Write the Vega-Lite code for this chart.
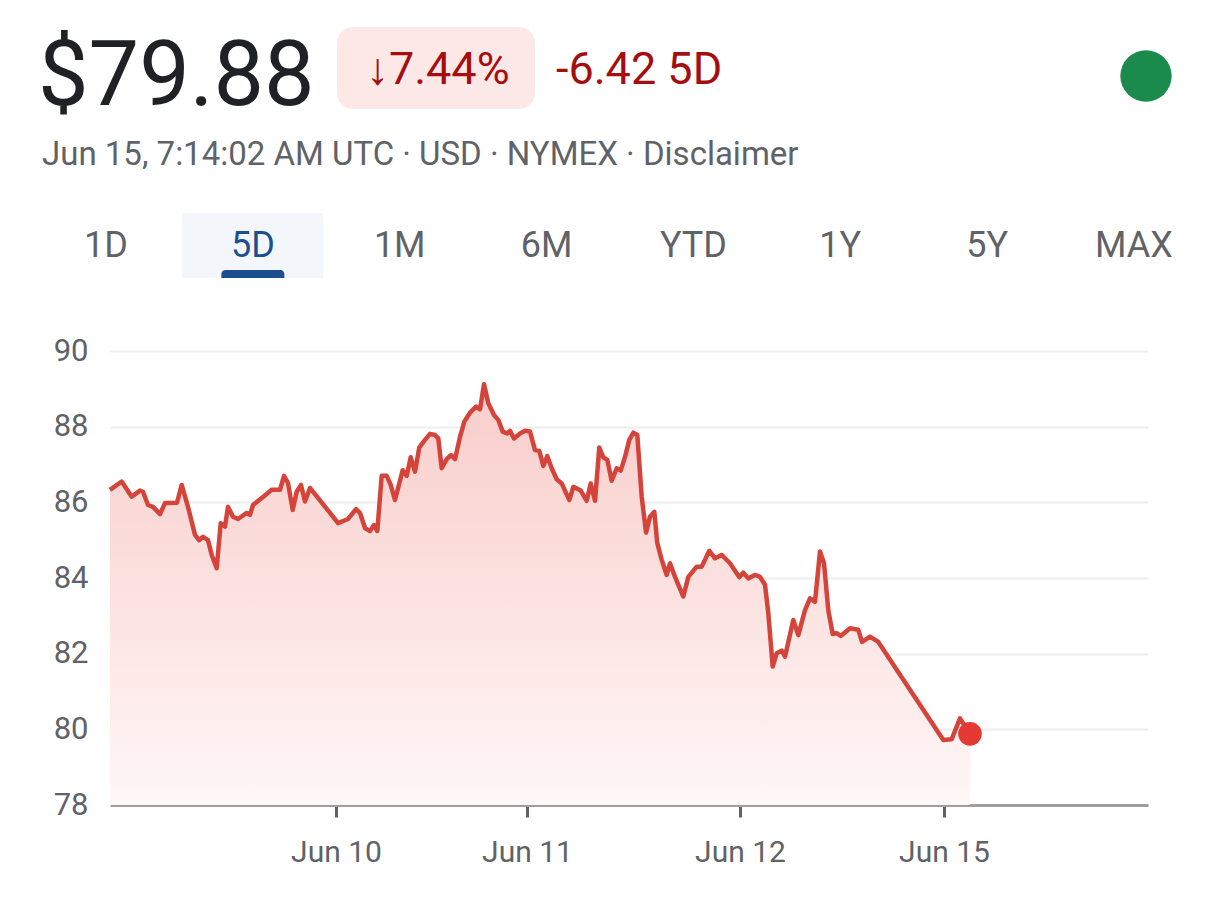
{
  "$schema": "https://vega.github.io/schema/vega-lite/v6.json",
  "background": "white",
  "padding": 0,
  "spacing": 0,
  "config": {"view": {"stroke": null}, "font": "Roboto"},
  "vconcat": [
    {
      "width": 1110,
      "height": 335,
      "resolve": {"scale": {"x": "independent"}},
      "layer": [
        {
          "data": {"values": [{}]},
          "layer": [
            {
              "mark": {"type": "rect", "cornerRadius": 16, "color": "#fce8e6"},
              "encoding": {
                "x": {"datum": 337, "scale": {"domain": [110, 1220], "nice": false, "zero": false}, "axis": null},
                "x2": {"datum": 535},
                "y": {"datum": 27, "scale": {"domain": [0, 335], "reverse": true, "nice": false, "zero": false}, "axis": null},
                "y2": {"datum": 109}
              }
            },
            {
              "mark": {"type": "text", "text": "$79.88", "font": "Roboto", "fontSize": 90, "color": "#202124", "align": "left", "baseline": "alphabetic"},
              "encoding": {"x": {"datum": 38}, "y": {"datum": 105}}
            },
            {
              "mark": {"type": "text", "text": "↓7.44%", "font": "Roboto", "fontSize": 45, "color": "#a50e0e", "align": "center", "baseline": "alphabetic"},
              "encoding": {"x": {"datum": 438}, "y": {"datum": 84}}
            },
            {
              "mark": {"type": "text", "text": "-6.42 5D", "font": "Roboto", "fontSize": 45, "color": "#a50e0e", "align": "left", "baseline": "alphabetic"},
              "encoding": {"x": {"datum": 556}, "y": {"datum": 84}}
            },
            {
              "mark": {"type": "text", "text": "Jun 15, 7:14:02 AM UTC · USD · NYMEX · Disclaimer", "font": "Roboto", "fontSize": 33, "color": "#5f6368", "align": "left", "baseline": "alphabetic"},
              "encoding": {"x": {"datum": 42}, "y": {"datum": 165}}
            },
            {
              "mark": {"type": "circle", "size": 2640, "color": "#1b8a4d", "opacity": 1},
              "encoding": {"x": {"datum": 1146}, "y": {"datum": 76}}
            }
          ]
        },
        {
          "data": {"values": [
            {"tab": "1D"}, {"tab": "5D"}, {"tab": "1M"}, {"tab": "6M"},
            {"tab": "YTD"}, {"tab": "1Y"}, {"tab": "5Y"}, {"tab": "MAX"}
          ]},
          "encoding": {
            "x": {
              "field": "tab", "type": "ordinal", "sort": null,
              "scale": {"type": "point", "domain": ["1D", "5D", "1M", "6M", "YTD", "1Y", "5Y", "MAX"], "range": [-4, 1024], "padding": 0},
              "axis": null
            }
          },
          "layer": [
            {
              "transform": [{"filter": "datum.tab === '5D'"}],
              "mark": {"type": "bar", "width": 141, "color": "#f3f7fc"},
              "encoding": {
                "y": {"datum": 213, "scale": {"domain": [0, 335], "reverse": true, "nice": false, "zero": false}, "axis": null},
                "y2": {"datum": 278}
              }
            },
            {
              "transform": [{"filter": "datum.tab === '5D'"}],
              "mark": {"type": "bar", "width": 63, "color": "#1b4f8f", "cornerRadiusTopLeft": 5, "cornerRadiusTopRight": 5},
              "encoding": {"y": {"datum": 270}, "y2": {"datum": 278}}
            },
            {
              "mark": {"type": "text", "font": "Roboto", "fontSize": 36, "baseline": "middle", "align": "center"},
              "encoding": {
                "y": {"datum": 246},
                "text": {"field": "tab"},
                "color": {"condition": {"test": "datum.tab === '5D'", "value": "#1b4f8f"}, "value": "#5f6368"}
              }
            }
          ]
        }
      ]
    },
    {
      "width": 1038,
      "height": 454,
      "data": {"values": [
        {"t": 0, "v": 86.33}, {"t": 11.7, "v": 86.55}, {"t": 21.7, "v": 86.15}, {"t": 30, "v": 86.31},
        {"t": 33, "v": 86.28}, {"t": 38, "v": 85.93}, {"t": 43, "v": 85.88}, {"t": 50, "v": 85.69},
        {"t": 55, "v": 85.98}, {"t": 67, "v": 85.99}, {"t": 71.7, "v": 86.46}, {"t": 78, "v": 85.88},
        {"t": 85, "v": 85.14}, {"t": 89, "v": 85.0}, {"t": 93, "v": 85.09}, {"t": 98, "v": 85.0},
        {"t": 101.7, "v": 84.61}, {"t": 106.7, "v": 84.26}, {"t": 110.7, "v": 85.45}, {"t": 115, "v": 85.36},
        {"t": 118, "v": 85.88}, {"t": 123, "v": 85.62}, {"t": 128, "v": 85.56}, {"t": 136.7, "v": 85.72},
        {"t": 140, "v": 85.67}, {"t": 143, "v": 85.93}, {"t": 153, "v": 86.14}, {"t": 161.7, "v": 86.33},
        {"t": 170, "v": 86.33}, {"t": 174, "v": 86.7}, {"t": 178, "v": 86.51}, {"t": 182.7, "v": 85.8},
        {"t": 186.7, "v": 86.28}, {"t": 191, "v": 86.46}, {"t": 195, "v": 86.02}, {"t": 200, "v": 86.38},
        {"t": 220, "v": 85.72}, {"t": 228, "v": 85.45}, {"t": 238, "v": 85.56}, {"t": 246, "v": 85.82},
        {"t": 250, "v": 85.72}, {"t": 255, "v": 85.32}, {"t": 260, "v": 85.24}, {"t": 264, "v": 85.4},
        {"t": 267.3, "v": 85.24}, {"t": 271.7, "v": 86.7}, {"t": 276.7, "v": 86.7}, {"t": 280.7, "v": 86.46},
        {"t": 285, "v": 86.06}, {"t": 292.7, "v": 86.85}, {"t": 296.7, "v": 86.7}, {"t": 300.7, "v": 87.19},
        {"t": 305, "v": 86.81}, {"t": 309.3, "v": 87.45}, {"t": 315, "v": 87.65}, {"t": 320, "v": 87.81},
        {"t": 325, "v": 87.78}, {"t": 328.3, "v": 87.69}, {"t": 331.7, "v": 86.9}, {"t": 336.7, "v": 87.14},
        {"t": 341, "v": 87.25}, {"t": 345, "v": 87.14}, {"t": 350, "v": 87.73}, {"t": 354.3, "v": 88.13},
        {"t": 360, "v": 88.37}, {"t": 366, "v": 88.53}, {"t": 370, "v": 88.46}, {"t": 374, "v": 89.12},
        {"t": 378.3, "v": 88.62}, {"t": 384, "v": 88.31}, {"t": 388.3, "v": 88.18}, {"t": 392.7, "v": 87.87},
        {"t": 397.3, "v": 87.82}, {"t": 400, "v": 87.89}, {"t": 404, "v": 87.69}, {"t": 410, "v": 87.82},
        {"t": 415, "v": 87.89}, {"t": 420, "v": 87.87}, {"t": 425, "v": 87.38}, {"t": 429.3, "v": 87.36},
        {"t": 433.3, "v": 86.96}, {"t": 437.3, "v": 87.22}, {"t": 441.7, "v": 86.9}, {"t": 446.7, "v": 86.61},
        {"t": 451.7, "v": 86.5}, {"t": 459.3, "v": 86.06}, {"t": 463.3, "v": 86.41}, {"t": 470.7, "v": 86.31},
        {"t": 476.7, "v": 86.04}, {"t": 480.7, "v": 86.5}, {"t": 485, "v": 86.04}, {"t": 489.3, "v": 87.45},
        {"t": 493.3, "v": 87.19}, {"t": 497.3, "v": 87.12}, {"t": 501.7, "v": 86.57}, {"t": 506.7, "v": 86.9},
        {"t": 510.7, "v": 86.84}, {"t": 515, "v": 87.2}, {"t": 519.3, "v": 87.65}, {"t": 523.3, "v": 87.84},
        {"t": 527.3, "v": 87.78}, {"t": 531.7, "v": 86.15}, {"t": 536, "v": 85.2}, {"t": 540, "v": 85.62},
        {"t": 544.3, "v": 85.75}, {"t": 547.3, "v": 84.92}, {"t": 551.7, "v": 84.48}, {"t": 556.7, "v": 84.08},
        {"t": 560, "v": 84.39}, {"t": 565, "v": 84.03}, {"t": 573.3, "v": 83.51}, {"t": 578.3, "v": 84.03},
        {"t": 586.7, "v": 84.3}, {"t": 591.7, "v": 84.3}, {"t": 599.3, "v": 84.72}, {"t": 605, "v": 84.52},
        {"t": 611.7, "v": 84.61}, {"t": 620, "v": 84.39}, {"t": 629.3, "v": 84.02}, {"t": 633.3, "v": 84.14},
        {"t": 638.3, "v": 83.99}, {"t": 645, "v": 84.08}, {"t": 650, "v": 84.03}, {"t": 655, "v": 83.82},
        {"t": 658.3, "v": 83.07}, {"t": 662.7, "v": 81.66}, {"t": 666.7, "v": 82.01}, {"t": 671.7, "v": 82.08},
        {"t": 675, "v": 81.92}, {"t": 683.3, "v": 82.89}, {"t": 688.3, "v": 82.49}, {"t": 695, "v": 83.15},
        {"t": 700, "v": 83.46}, {"t": 705, "v": 83.37}, {"t": 710, "v": 84.7}, {"t": 714, "v": 84.39},
        {"t": 718.3, "v": 83.15}, {"t": 722.7, "v": 82.52}, {"t": 726.7, "v": 82.54}, {"t": 730.7, "v": 82.47},
        {"t": 740, "v": 82.67}, {"t": 748.3, "v": 82.63}, {"t": 752, "v": 82.31}, {"t": 760, "v": 82.45},
        {"t": 768.3, "v": 82.31}, {"t": 833.3, "v": 79.72}, {"t": 841.7, "v": 79.74}, {"t": 850, "v": 80.29},
        {"t": 860, "v": 79.88}
      ]},
      "encoding": {
        "x": {
          "field": "t", "type": "quantitative",
          "scale": {"domain": [0, 1038], "nice": false, "zero": false},
          "axis": {
            "values": [226, 417, 630, 834],
            "labelExpr": "datum.value == 226 ? 'Jun 10' : datum.value == 417 ? 'Jun 11' : datum.value == 630 ? 'Jun 12' : 'Jun 15'",
            "grid": false,
            "domainColor": "#9e9e9e", "domainWidth": 3,
            "tickColor": "#5f6368", "tickWidth": 3, "tickSize": 12,
            "labelFont": "Roboto", "labelFontSize": 30, "labelColor": "#5f6368", "labelPadding": 20,
            "title": null
          }
        },
        "y": {
          "field": "v", "type": "quantitative",
          "scale": {"domain": [78, 90], "nice": false, "zero": false},
          "axis": {
            "values": [78, 80, 82, 84, 86, 88, 90],
            "grid": true, "gridColor": "#eeeeee", "gridWidth": 2,
            "domain": false, "ticks": false,
            "labelFont": "Roboto", "labelFontSize": 31, "labelColor": "#5f6368", "labelPadding": 22,
            "minExtent": 110, "maxExtent": 110,
            "title": null
          }
        }
      },
      "layer": [
        {
          "mark": {
            "type": "area",
            "color": {
              "gradient": "linear", "x1": 1, "y1": 1, "x2": 1, "y2": 0,
              "stops": [
                {"offset": 0, "color": "#fff7f7"},
                {"offset": 1, "color": "#f8cdca"}
              ]
            }
          },
          "encoding": {"y2": {"datum": 78}}
        },
        {
          "mark": {"type": "line", "color": "#d4443a", "strokeWidth": 4.5, "strokeJoin": "round"}
        },
        {
          "transform": [{"filter": "datum.t === 860"}],
          "mark": {"type": "circle", "size": 560, "color": "#e53935", "opacity": 1}
        }
      ]
    }
  ]
}
